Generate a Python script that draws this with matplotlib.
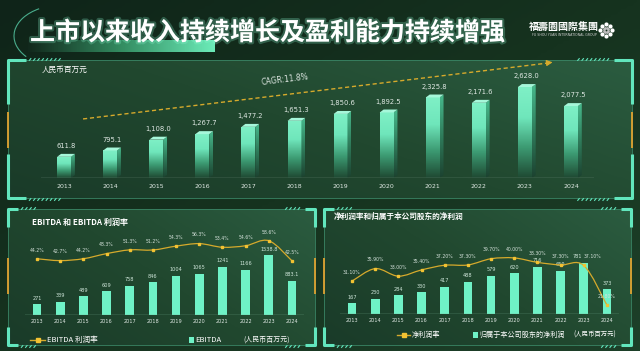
import numpy as np
import matplotlib
matplotlib.use('Agg')
import matplotlib.pyplot as plt
from matplotlib.patches import Polygon, Rectangle, Arc, PathPatch
from matplotlib.path import Path
from matplotlib.colors import LinearSegmentedColormap
import matplotlib.patheffects as pe

plt.rcParams['font.family'] = ['Noto Sans CJK SC', 'DejaVu Sans']

# ---------------- data ----------------
years = ['2013', '2014', '2015', '2016', '2017', '2018', '2019', '2020', '2021', '2022', '2023', '2024']
revenue = [611.8, 795.1, 1108.0, 1267.7, 1477.2, 1651.3, 1850.6, 1892.5, 2325.8, 2171.6, 2628.0, 2077.5]
revenue_labels = ['611.8', '795.1', '1,108.0', '1,267.7', '1,477.2', '1,651.3', '1,850.6', '1,892.5',
                  '2,325.8', '2,171.6', '2,628.0', '2,077.5']
cagr_label = 'CAGR:11.8%'

ebitda = [271, 339, 489, 609, 758, 846, 1004, 1065, 1241, 1166, 1538.8, 883.1]
ebitda_labels = ['271', '339', '489', '609', '758', '846', '1004', '1065', '1241', '1166', '1538.8', '883.1']
ebitda_margin = [44.2, 42.7, 44.2, 48.3, 51.3, 51.2, 54.3, 56.3, 53.4, 54.6, 58.6, 42.5]

net_profit = [167, 230, 284, 330, 417, 488, 579, 620, 716, 659, 781, 373]
net_margin = [31.10, 35.90, 33.00, 35.40, 37.20, 37.30, 39.70, 40.00, 38.30, 37.30, 37.10, 21.80]

title = '上市以来收入持续增长及盈利能力持续增强'
unit_top = '人民币百万元'
title_left = 'EBITDA 和 EBITDA 利润率'
title_right = '净利润率和归属于本公司股东的净利润'
leg_left = ['EBITDA 利润率', 'EBITDA', '(人民币百万元)']
leg_right = ['净利润率', '归属于本公司股东的净利润', '(人民币百万元)']

# ---------------- styles ----------------
W, H = 640, 351
MINT = '#6ff2c6'
MINT_EDGE = '#62e6bd'
GOLD = '#d6aa2c'
GOLD_M = '#f2c232'
TXT = '#dfe8e3'

fig = plt.figure(figsize=(W / 100, H / 100), dpi=100)
fig.patch.set_facecolor('#12291d')

bg = fig.add_axes([0, 0, 1, 1], zorder=0)
bg.set_xlim(0, W)
bg.set_ylim(H, 0)
bg.axis('off')

# full background gradient
gx = np.linspace(0, 1, 200)
gy = np.linspace(0, 1, 120)
GX, GY = np.meshgrid(gx, gy)
bgcmap = LinearSegmentedColormap.from_list('bgc', ['#0f2419', '#16331f', '#1d4029'])
bg.imshow(0.5 * GX + 0.5 * GY, extent=[0, W, H, 0], cmap=bgcmap, aspect='auto', zorder=0)

pancmap = LinearSegmentedColormap.from_list('pan', ['#1a3b29', '#21482f', '#2b5c40'])


def px(x, y, w, h):
    """pixel box (top-left origin) -> figure fraction rect"""
    return [x / W, (H - y - h) / H, w / W, h / H]


def hatch(x, y, n=7, step=4.2, color=MINT_EDGE):
    for i in range(n):
        bg.plot([x + i * step, x + i * step + 2.2], [y + 1.3, y - 1.3], color=color, lw=0.8,
                solid_capstyle='butt', zorder=3)


def panel(x0, y0, x1, y1, cv, orange, hatch_len=7, ch=18):
    rect = Rectangle((x0, y0), x1 - x0, y1 - y0, fc='none', ec='#3a8565', lw=0.6, zorder=2)
    bg.add_patch(rect)
    im = bg.imshow(0.6 * GX + 0.4 * (1 - GY), extent=[x0, x1, y1, y0], cmap=pancmap,
                   aspect='auto', zorder=1)
    im.set_clip_path(rect)
    kw = dict(color=MINT_EDGE, lw=2.2, solid_capstyle='butt', zorder=3)
    # corners
    bg.plot([x0, x0, x0 + ch], [y0 + cv, y0, y0], **kw)
    bg.plot([x1, x1, x1 - ch], [y0 + cv, y0, y0], **kw)
    bg.plot([x0, x0, x0 + ch], [y1 - cv, y1, y1], **kw)
    bg.plot([x1, x1, x1 - ch], [y1 - cv, y1, y1], **kw)
    # hatches
    hatch(x0 + ch + 3, y0 - 0.5, hatch_len)
    hatch(x1 - ch - 3 - hatch_len * 4.2, y0 - 0.5, hatch_len)
    hatch(x0 + ch + 3, y1 + 1.5, hatch_len)
    hatch(x1 - ch - 3 - hatch_len * 4.2, y1 + 1.5, hatch_len)
    # orange side marks
    oa, ob = orange
    for xx in (x0, x1):
        bg.plot([xx, xx], [oa, ob], color='#e0a331', lw=1.3, solid_capstyle='butt', zorder=3)


# ---------------- header ----------------
bg.add_patch(Arc((62, 36), 96, 62, angle=0, theta1=150, theta2=230, color=MINT_EDGE, lw=0.8,
                 alpha=0.7, zorder=2))
bar_rect = Rectangle((28, 40), 187, 12, fc='none', ec='none', zorder=2)
bg.add_patch(bar_rect)
gcm = LinearSegmentedColormap.from_list('tb', [(0.07, 0.16, 0.11, 1.0), (0.2, 0.55, 0.38, 1.0),
                                               (0.42, 0.92, 0.72, 1.0)])
gim = bg.imshow(np.linspace(0, 1, 100)[None, :], extent=[28, 215, 52, 40], cmap=gcm,
                aspect='auto', zorder=2)
gim.set_clip_path(bar_rect)
bg.text(30, 33, title, fontsize=18, fontweight='bold', color='white', va='center', ha='left',
        zorder=4, path_effects=[pe.withStroke(linewidth=3, foreground='#8fffd8', alpha=0.25)])

# logo
bg.text(564, 27, '福壽園國際集團', fontsize=7.2, fontweight='bold', color='white', ha='center',
        va='center', family=['Noto Sans CJK TC', 'DejaVu Sans'], zorder=4)
bg.text(564, 35.5, 'FU SHOU YUAN INTERNATIONAL GROUP', fontsize=2.3, color='#d0d0d0',
        ha='center', va='center', family='DejaVu Sans', zorder=4)
ang = np.linspace(0, 2 * np.pi, 9)[:-1]
bg.scatter(606 + 6 * np.cos(ang), 30 + 6 * np.sin(ang), s=9, color='white', zorder=4, lw=0)
bg.scatter(606 + 2.5 * np.cos(ang + 0.4), 30 + 2.5 * np.sin(ang + 0.4), s=4, color='#bfbfbf',
           zorder=4, lw=0)

# ---------------- panels ----------------
panel(8, 60, 632, 198, cv=44, orange=(112, 148), hatch_len=8, ch=18)
panel(8, 209, 315, 345, cv=18, orange=(258, 294), hatch_len=4, ch=10)
panel(324, 209, 631, 345, cv=18, orange=(258, 294), hatch_len=4, ch=10)

x = np.arange(len(years))

# ---------------- top chart ----------------
ax = fig.add_axes(px(41, 62, 553, 116), zorder=2)
ax.patch.set_alpha(0)
ymax = 3350
ax.set_xlim(-0.5, len(years) - 0.5)
ax.set_ylim(0, ymax)
bw = 0.30
dx, dy = 0.085, 85
bars = ax.bar(x, revenue, width=bw, color='none', ec='none', zorder=3)
front_cmap = LinearSegmentedColormap.from_list('fr', ['#1f4a33', '#3c9a72', '#6fe6bb', '#7ff0c6'])
side_cmap = LinearSegmentedColormap.from_list('sd', ['#1c4230', '#2f7c5b', '#47b98c'])
grad = np.linspace(0, 1, 100)[:, None]
for b, v in zip(bars, revenue):
    x0 = b.get_x()
    x1 = x0 + b.get_width()
    im = ax.imshow(grad, extent=[x0, x1, 0, v], origin='lower', cmap=front_cmap, aspect='auto',
                   zorder=3)
    im.set_clip_path(b)
    side = Polygon([[x1, 0], [x1 + dx, dy], [x1 + dx, v + dy], [x1, v]], closed=True,
                   fc='none', ec='none', zorder=3)
    ax.add_patch(side)
    ims = ax.imshow(grad, extent=[x1, x1 + dx, 0, v + dy], origin='lower', cmap=side_cmap,
                    aspect='auto', zorder=3)
    ims.set_clip_path(side)
    ax.add_patch(Polygon([[x0, v], [x0 + dx, v + dy], [x1 + dx, v + dy], [x1, v]], closed=True,
                         fc='#a6f7da', ec='none', zorder=4))
for xi, v, lab in zip(x, revenue, revenue_labels):
    ax.annotate(lab, (xi + dx / 2, v + dy), xytext=(0, 3.5), textcoords='offset points',
                ha='center', va='bottom', fontsize=4.9, color=TXT, family='DejaVu Sans')
ax.set_xlim(-0.5, len(years) - 0.5)
ax.set_ylim(0, ymax)
ax.axhline(0, color='#9fb7aa', lw=0.9, zorder=5)
ax.set_xticks(x)
ax.set_xticklabels(years, fontsize=4.5, color=TXT, family='DejaVu Sans')
ax.tick_params(axis='x', length=0, pad=4.5)
ax.set_yticks([])
for s in ax.spines.values():
    s.set_visible(False)
# CAGR trend arrow
ax.plot([0.076, 0.915], [0.509, 0.99], transform=ax.transAxes, color=GOLD, lw=1.0,
        ls=(0, (3, 2)), clip_on=False, zorder=4)
ax.annotate('', xy=(0.93, 1.0), xytext=(0.912, 0.99), xycoords='axes fraction',
            arrowprops=dict(arrowstyle='-|>,head_length=0.35,head_width=0.18', color=GOLD, lw=0.8),
            annotation_clip=False)
ax.text(0.441, 0.845, cagr_label, transform=ax.transAxes, rotation=7, fontsize=5.5, color=TXT,
        ha='center', va='center', family='DejaVu Sans')
bg.text(42, 70, unit_top, fontsize=5.5, color='white', ha='left', va='center', zorder=4)


# ---------------- helpers for bottom charts ----------------
def smooth_patch(axx, xs, ys, color, lw):
    P = np.column_stack([xs, ys]).astype(float)
    n = len(P)
    verts = [P[0]]
    codes = [Path.MOVETO]
    for i in range(n - 1):
        p0 = P[i - 1] if i > 0 else P[i]
        p1 = P[i]
        p2 = P[i + 1]
        p3 = P[i + 2] if i + 2 < n else P[i + 1]
        c1 = p1 + (p2 - p0) / 6.0
        c2 = p2 - (p3 - p1) / 6.0
        verts += [c1, c2, p2]
        codes += [Path.CURVE4] * 3
    axx.add_patch(PathPatch(Path(verts, codes), fc='none', ec=color, lw=lw, zorder=4))


def bottom_chart(box, vals, labels, margins, mfmt, ylim_bar, ylim_line, shifts=None):
    shifts = shifts or {}
    a = fig.add_axes(px(*box), zorder=2)
    a.patch.set_alpha(0)
    a.bar(x, vals, width=0.375, color=MINT, ec='none', zorder=3)
    a.set_xlim(-0.5, len(years) - 0.5)
    a.set_ylim(*ylim_bar)
    a.axhline(0, color='#6fa68a', lw=1.0, zorder=5)
    for i, (xi, v, lab) in enumerate(zip(x, vals, labels)):
        bx = shifts.get(i, (0, 0))[0]
        a.annotate(lab, (xi, v), xytext=(bx, 2.5), textcoords='offset points', ha='center',
                   va='bottom', fontsize=3.6, color='#cfe6da', family='DejaVu Sans', zorder=6)
    a.set_xticks(x)
    a.set_xticklabels(years, fontsize=3.6, color=TXT, family='DejaVu Sans')
    a.tick_params(axis='x', length=0, pad=3)
    a.set_yticks([])
    for s in a.spines.values():
        s.set_visible(False)
    t = a.twinx()
    t.set_ylim(*ylim_line)
    t.set_xlim(-0.5, len(years) - 0.5)
    smooth_patch(t, x, margins, GOLD, 0.9)
    t.plot(x, margins, ls='none', marker='s', ms=2.0, mfc=GOLD_M, mec=GOLD_M, zorder=5)
    for i, (xi, m) in enumerate(zip(x, margins)):
        mx = shifts.get(i, (0, 0))[1]
        t.annotate(mfmt.format(m), (xi, m), xytext=(mx, 4.5), textcoords='offset points',
                   ha='center', va='bottom', fontsize=3.3, color='#d5e2db', family='DejaVu Sans',
                   zorder=6)
    t.set_yticks([])
    for s in t.spines.values():
        s.set_visible(False)
    return a, t


bottom_chart((25.4, 235, 278.2, 80), ebitda, ebitda_labels, ebitda_margin, '{:.1f}%',
             (0, 2056), (-0.8, 63.2))
bottom_chart((340.4, 234, 278.2, 80), net_profit, [str(v) for v in net_profit], net_margin,
             '{:.2f}%', (0, 1216), (18.46, 49.2), shifts={10: (-5, 6.5)})

# titles
bg.text(32, 222, title_left, fontsize=5.8, fontweight='bold', color='white', ha='left',
        va='center', zorder=4)
bg.text(334, 216, title_right, fontsize=5.5, fontweight='bold', color='white', ha='left',
        va='center', zorder=4)


# legends
def legend(y, lx0, lx1, t1x, sqx, t2x, unitx, texts, fs, ufs):
    bg.plot([lx0, lx1], [y, y], color=GOLD, lw=1.0, zorder=4)
    bg.plot([(lx0 + lx1) / 2], [y], marker='s', ms=2.2, color=GOLD_M, zorder=5)
    bg.text(t1x, y, texts[0], fontsize=fs, color='white', ha='left', va='center', zorder=4)
    bg.add_patch(Rectangle((sqx - 2.5, y - 2.8), 5, 5.6, fc=MINT, ec='none', zorder=4))
    bg.text(t2x, y, texts[1], fontsize=fs, color='white', ha='left', va='center', zorder=4)
    bg.text(unitx, y - 0.5, texts[2], fontsize=ufs, color='white', ha='left', va='center',
            zorder=4)


legend(340, 30, 45, 47, 191, 195, 243, leg_left, 5.5, 5.0)
legend(335, 397, 410, 412, 475, 479, 573, leg_right, 5.1, 4.6)

fig.savefig('out.png', dpi=100, facecolor=fig.get_facecolor())
